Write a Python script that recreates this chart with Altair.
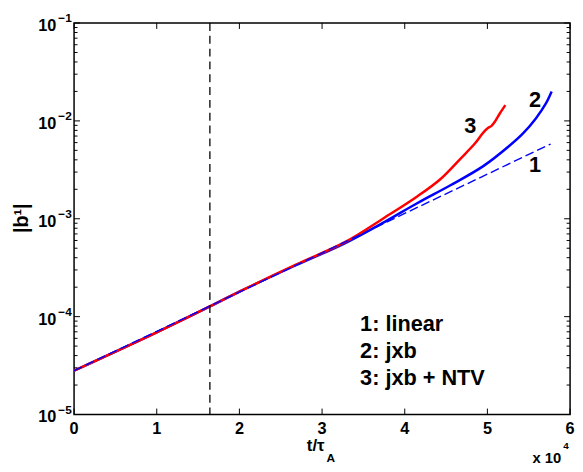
import altair as alt
import pandas as pd

# ---- data (t in units of 1e4 tau_A) ----
t_linear = [0.0, 5.765]
b_linear = [2.8e-5, 5.8e-3]

t_jxb = [0.0, 1.0, 1.643, 2.0, 2.684, 3.281, 3.758, 4.155, 4.553, 4.950, 5.270, 5.428, 5.586, 5.706, 5.777]
b_jxb = [2.8e-5, 6.9e-5, 1.27e-4, 1.8e-4, 3.35e-4, 5.65e-4, 9.3e-4, 1.45e-3, 2.2e-3, 3.45e-3, 5.6e-3, 7.4e-3, 1.06e-2, 1.5e-2, 2.0e-2]

t_ntv = [0.0, 1.0, 1.643, 2.0, 2.684, 3.281, 3.758, 4.155, 4.434, 4.673, 4.851, 4.950, 5.010, 5.050, 5.090, 5.150, 5.217]
b_ntv = [2.8e-5, 6.9e-5, 1.27e-4, 1.8e-4, 3.4e-4, 5.8e-4, 1.03e-3, 1.7e-3, 2.55e-3, 4.1e-3, 5.9e-3, 7.6e-3, 8.5e-3, 8.9e-3, 9.8e-3, 1.19e-2, 1.45e-2]

t_marker = [1.643]

x_ticks = [0, 1, 2, 3, 4, 5, 6]
x_tick_labels = ["0", "1", "2", "3", "4", "5", "6"]
y_decades = [1e-5, 1e-4, 1e-3, 1e-2, 1e-1]
y_exponents = ["\u22125", "\u22124", "\u22123", "\u22122", "\u22121"]
y_minor = [m * d for d in y_decades[:-1] for m in range(2, 10)]

legend_lines = ["1: linear", "2: jxb", "3: jxb + NTV"]
legend_t = [3.46, 3.46, 3.46]
legend_b = [7.18e-5, 3.75e-5, 2.0e-5]

curve_ids = ["1", "2", "3"]
curve_id_t = [5.577, 5.577, 4.792]
curve_id_b = [3.5e-3, 1.64e-2, 8.75e-3]

# ---- layout / style ----
W, H = 503, 397
FONT = "Liberation Sans"
xs = alt.Scale(domain=[0, 6], nice=False, zero=False)
ys = alt.Scale(type="log", domain=[1e-5, 1e-1], nice=False)

X = lambda f: alt.X(f, type="quantitative", scale=xs, axis=None)
Y = lambda f: alt.Y(f, type="quantitative", scale=ys, axis=None)

df_lin = pd.DataFrame({"t": t_linear, "b": b_linear})
df_jxb = pd.DataFrame({"t": t_jxb, "b": b_jxb})
df_ntv = pd.DataFrame({"t": t_ntv, "b": b_ntv})
df_mark = pd.DataFrame({"t": t_marker})
df_xt = pd.DataFrame({"t": x_ticks, "lab": x_tick_labels})
df_yt = pd.DataFrame({"v": y_decades, "exp": y_exponents})
df_ym = pd.DataFrame({"v": y_minor})
df_leg = pd.DataFrame({"t": legend_t, "b": legend_b, "txt": legend_lines})
df_ids = pd.DataFrame({"t": curve_id_t, "b": curve_id_b, "txt": curve_ids})

line_jxb = alt.Chart(df_jxb).mark_line(color="#0000ff", strokeWidth=2.5, interpolate="catmull-rom", clip=True).encode(x=X("t"), y=Y("b"))
line_ntv = alt.Chart(df_ntv).mark_line(color="#ff0000", strokeWidth=2.5, interpolate="catmull-rom", clip=True).encode(x=X("t"), y=Y("b"))
line_lin = alt.Chart(df_lin).mark_line(color="#0000ff", strokeWidth=1.4, strokeDash=[9, 4]).encode(x=X("t"), y=Y("b"))
vline = alt.Chart(df_mark).mark_rule(color="black", strokeWidth=1.3, strokeDash=[8, 5]).encode(
    x=X("t"), y=alt.value(0), y2=alt.value(H))

# ticks (inward, MATLAB-style, on all four sides)
xt_bot = alt.Chart(df_xt).mark_rule(color="black", strokeWidth=1).encode(x=X("t"), y=alt.value(H), y2=alt.value(H - 6))
xt_top = alt.Chart(df_xt).mark_rule(color="black", strokeWidth=1).encode(x=X("t"), y=alt.value(0), y2=alt.value(6))
yt_l = alt.Chart(df_yt).mark_rule(color="black", strokeWidth=1).encode(y=Y("v"), x=alt.value(0), x2=alt.value(6))
yt_r = alt.Chart(df_yt).mark_rule(color="black", strokeWidth=1).encode(y=Y("v"), x=alt.value(W), x2=alt.value(W - 6))
ym_l = alt.Chart(df_ym).mark_rule(color="black", strokeWidth=1).encode(y=Y("v"), x=alt.value(0), x2=alt.value(3.5))
ym_r = alt.Chart(df_ym).mark_rule(color="black", strokeWidth=1).encode(y=Y("v"), x=alt.value(W), x2=alt.value(W - 3.5))

# tick labels
xlab = alt.Chart(df_xt).mark_text(font=FONT, fontWeight="bold", fontSize=16.5, align="center", baseline="alphabetic").encode(
    x=X("t"), y=alt.value(H + 20), text="lab:N")
ylab10 = alt.Chart(df_yt).mark_text(font=FONT, fontWeight="bold", fontSize=16.5, align="right", baseline="alphabetic", dy=8).encode(
    y=Y("v"), x=alt.value(-18), text=alt.value("10"))
ylabexp = alt.Chart(df_yt).mark_text(font=FONT, fontWeight="bold", fontSize=12, align="left", baseline="alphabetic", dy=-1).encode(
    y=Y("v"), x=alt.value(-16), text="exp:N")

# axis titles
ytitle = alt.Chart(df_yt.head(1)).mark_text(font=FONT, fontWeight="bold", fontSize=20, angle=270, align="center", baseline="alphabetic").encode(
    x=alt.value(-47), y=alt.value(198), text=alt.value("|b\u00b9|"))
xtitle = alt.Chart(df_xt.head(1)).mark_text(font=FONT, fontWeight="bold", fontSize=17, align="right", baseline="alphabetic").encode(
    x=alt.value(254), y=alt.value(434), text=alt.value("t/\u03c4"))
xtitle_sub = alt.Chart(df_xt.head(1)).mark_text(font=FONT, fontWeight="bold", fontSize=12, align="left", baseline="alphabetic").encode(
    x=alt.value(256), y=alt.value(445), text=alt.value("A"))
xmult = alt.Chart(df_xt.head(1)).mark_text(font=FONT, fontWeight="bold", fontSize=15, align="right", baseline="alphabetic").encode(
    x=alt.value(494), y=alt.value(446), text=alt.value("x 10"))
xmult_sup = alt.Chart(df_xt.head(1)).mark_text(font=FONT, fontWeight="bold", fontSize=10, align="left", baseline="alphabetic").encode(
    x=alt.value(496), y=alt.value(432), text=alt.value("4"))

# annotations
legend_txt = alt.Chart(df_leg).mark_text(font=FONT, fontWeight="bold", fontSize=22, align="left", baseline="alphabetic").encode(
    x=X("t"), y=Y("b"), text="txt:N")
ids_txt = alt.Chart(df_ids).mark_text(font=FONT, fontWeight="bold", fontSize=22, align="center", baseline="middle").encode(
    x=X("t"), y=Y("b"), text="txt:N")

chart = alt.layer(
    line_jxb, line_ntv, line_lin, vline,
    xt_bot, xt_top, yt_l, yt_r, ym_l, ym_r,
    xlab, ylab10, ylabexp, ytitle, xtitle, xtitle_sub, xmult, xmult_sup,
    legend_txt, ids_txt,
).properties(
    width=W, height=H,
    autosize=alt.AutoSizeParams(type="none"),
    padding={"left": 67, "top": 12, "right": 5, "bottom": 50},
    background="white",
).configure_view(stroke="black", strokeWidth=1.5)

chart.save("out.html", embed_options={"renderer": "svg", "actions": False})
